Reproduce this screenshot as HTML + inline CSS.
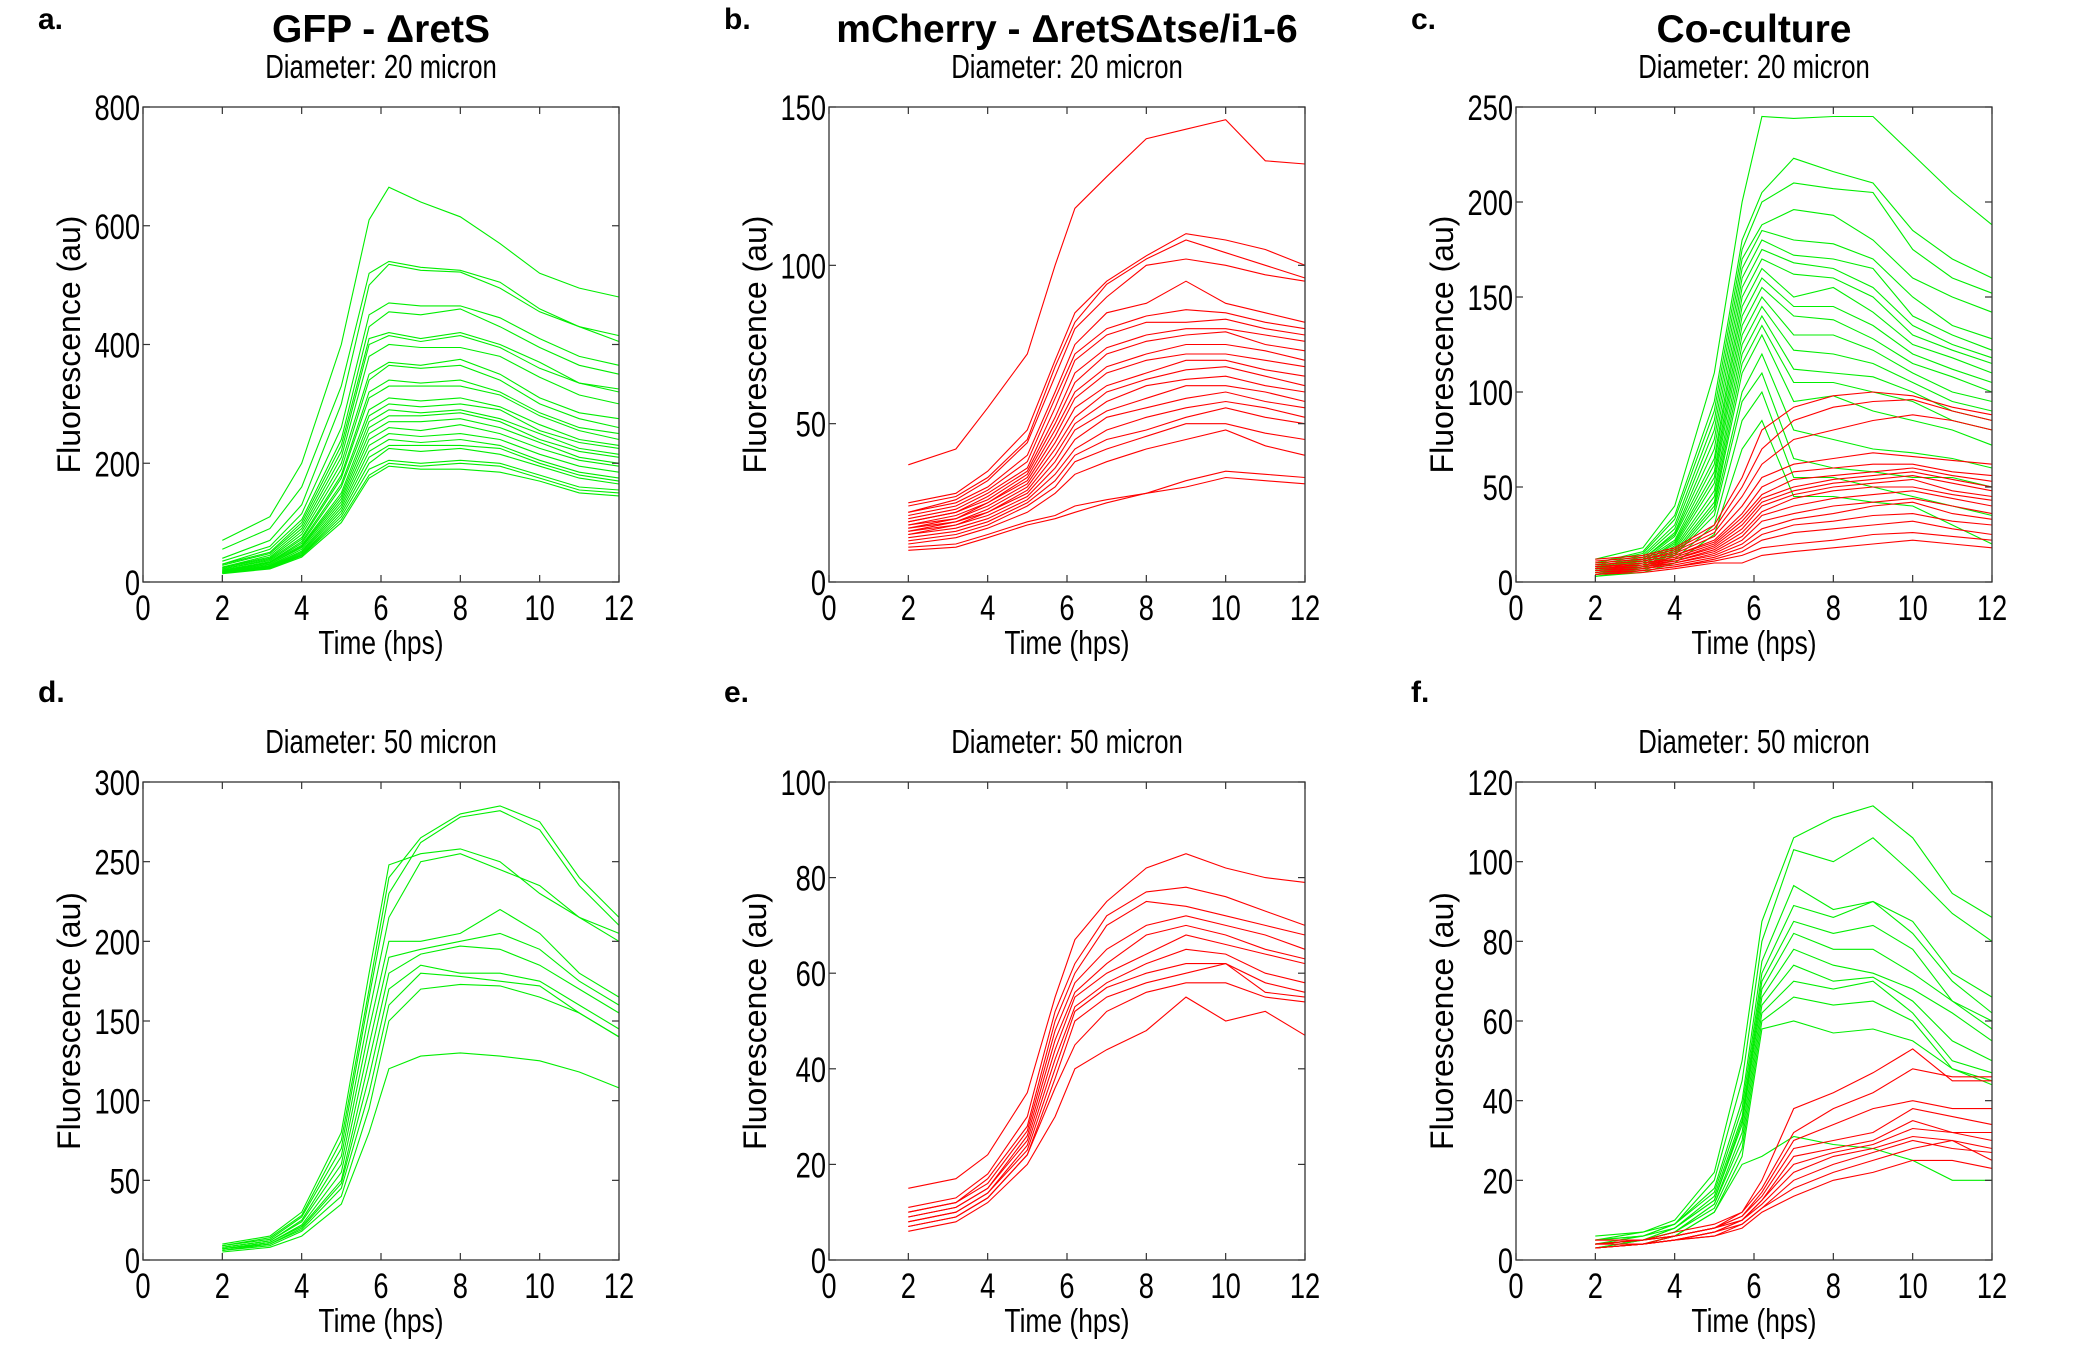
<!DOCTYPE html>
<html><head><meta charset="utf-8">
<style>
html,body{margin:0;padding:0;background:#fff;}
svg{display:block;}
text{fill:#000;}
.tick{font-family:"Liberation Sans",sans-serif;font-size:35px;}
.sub{font-family:"Liberation Sans",sans-serif;font-size:33px;}
.ttl{font-family:"Liberation Sans","DejaVu Sans",sans-serif;font-size:39px;font-weight:bold;}
.ylab{font-family:"Liberation Sans",sans-serif;font-size:32px;}
.plab{font-family:"Liberation Sans",sans-serif;font-size:30px;font-weight:bold;}
</style></head>
<body>
<svg id="fig" width="2100" height="1350" viewBox="0 0 2100 1350" xmlns="http://www.w3.org/2000/svg"></svg>
<script>
const times = [2,3.2,4,5,5.7,6.2,7,8,9,10,11,12];
const xTicks = [0,2,4,6,8,10,12];
const yTicksA = [0,200,400,600,800];
const yTicksB = [0,50,100,150];
const yTicksC = [0,50,100,150,200,250];
const yTicksD = [0,50,100,150,200,250,300];
const yTicksE = [0,20,40,60,80,100];
const yTicksF = [0,20,40,60,80,100,120];

const aGreen = [
[70,110,200,400,610,665,640,615,570,520,495,480],
[55,90,160,330,520,540,530,525,505,460,430,415],
[40,70,130,300,500,535,525,522,495,455,430,405],
[35,60,115,260,450,470,465,465,445,410,380,365],
[30,55,105,240,430,455,450,460,430,395,365,350],
[30,50,100,230,410,420,410,420,400,370,335,325],
[28,48,95,220,400,415,405,415,395,360,335,320],
[25,45,90,210,380,400,395,395,380,345,315,300],
[25,42,85,200,350,370,365,375,350,310,285,275],
[24,40,80,190,340,365,360,365,340,300,275,260],
[22,38,75,180,320,340,335,340,320,285,260,250],
[22,36,72,175,310,330,330,330,315,280,255,240],
[20,34,68,165,290,310,305,310,295,265,240,230],
[20,33,65,160,280,300,295,300,290,255,235,225],
[19,32,62,150,270,290,285,290,275,250,225,215],
[18,30,60,145,260,280,280,285,270,240,220,210],
[18,30,58,140,250,270,270,275,260,235,210,200],
[17,28,55,135,240,260,255,265,250,225,205,195],
[17,27,52,130,230,250,245,250,240,215,195,185],
[16,26,50,125,220,240,235,240,230,205,185,175],
[16,25,48,120,210,230,230,230,225,200,180,170],
[15,25,46,115,200,225,220,225,215,195,175,165],
[15,24,45,110,190,205,200,205,200,180,160,155],
[15,23,44,105,180,200,195,200,195,175,155,150],
[14,22,42,100,175,195,190,190,185,170,150,145]];

const bRed = [
[37,42,55,72,100,118,128,140,143,146,133,132],
[25,28,35,48,70,85,95,103,110,108,105,100],
[24,27,33,45,68,82,94,102,108,104,100,96],
[22,26,32,44,65,80,90,100,102,100,97,95],
[22,25,30,40,60,75,85,88,95,88,85,82],
[21,24,29,38,58,72,80,84,86,85,82,80],
[20,23,28,36,55,70,78,82,82,83,80,78],
[19,22,27,35,52,66,74,78,80,80,78,76],
[19,22,26,34,50,63,72,76,78,79,75,73],
[18,21,25,33,48,60,68,72,75,75,73,70],
[18,20,25,32,46,58,66,70,72,72,70,68],
[17,20,24,31,44,55,62,66,70,70,67,65],
[17,19,23,30,42,52,60,64,67,68,65,62],
[16,19,22,29,40,50,57,62,64,65,62,60],
[16,18,22,28,38,48,54,58,62,62,60,57],
[15,18,21,27,36,45,52,55,58,60,57,55],
[15,17,20,26,34,42,48,52,55,57,55,52],
[14,16,19,25,32,40,45,48,52,55,52,50],
[13,15,18,24,30,38,42,46,50,50,47,45],
[12,14,17,22,28,34,38,42,45,48,43,40],
[11,12,15,19,21,24,26,28,32,35,34,33],
[10,11,14,18,20,22,25,28,30,33,32,31]];

const cGreen = [
[12,18,40,110,200,245,244,245,245,225,205,188],
[10,16,35,95,180,205,223,216,210,185,170,160],
[10,15,33,90,175,200,210,207,205,175,160,152],
[9,14,30,85,170,188,196,193,180,160,150,142],
[8,13,28,80,165,185,180,178,170,150,135,128],
[8,12,26,75,160,180,172,170,165,140,130,122],
[7,12,25,70,155,175,168,165,155,135,125,118],
[7,11,24,65,150,170,162,160,150,130,122,115],
[7,11,22,62,145,165,150,155,142,125,118,110],
[6,10,21,58,140,160,145,145,135,120,112,105],
[6,10,20,55,135,155,140,138,128,115,108,100],
[6,9,19,52,130,150,130,130,122,110,100,95],
[5,9,18,48,125,145,122,120,115,105,95,90],
[5,8,17,45,120,140,112,110,108,100,90,85],
[5,8,16,42,115,135,105,105,100,95,85,80],
[4,8,15,40,110,130,95,98,90,85,80,72],
[4,7,14,38,100,120,80,75,70,68,65,60],
[4,7,14,35,95,110,65,60,58,55,55,50],
[3,6,12,30,85,100,55,55,50,45,40,35],
[3,5,10,25,70,85,45,45,42,40,30,20]];
const cRed = [
[12,14,18,30,55,80,92,98,100,98,92,88],
[11,13,17,28,50,70,85,92,95,96,90,85],
[10,12,16,26,45,62,75,80,85,88,85,80],
[10,12,15,24,40,55,62,65,68,66,64,62],
[9,11,14,22,36,50,58,60,62,62,58,56],
[9,11,14,21,34,46,54,56,58,60,56,53],
[8,10,13,20,32,44,50,54,56,58,54,50],
[8,10,12,19,30,42,48,52,54,56,52,48],
[8,9,12,18,28,40,46,50,52,54,48,45],
[7,9,11,17,26,37,44,48,50,50,46,43],
[7,8,11,16,24,35,40,44,46,48,44,40],
[6,8,10,15,22,32,36,40,42,44,40,36],
[6,7,10,14,20,28,33,36,40,42,36,33],
[5,7,9,13,18,25,30,32,35,36,32,30],
[5,6,8,12,16,22,26,28,30,32,28,25],
[4,6,8,11,14,18,20,22,25,26,24,22],
[4,5,7,10,10,14,16,18,20,22,20,18]];

const dGreen = [
[10,15,30,80,180,248,255,258,250,230,215,205],
[9,14,28,75,170,240,265,280,285,275,240,215],
[9,13,27,70,165,230,262,278,282,270,235,210],
[8,12,25,65,155,215,250,255,245,235,215,200],
[8,12,24,60,145,200,200,205,220,205,180,165],
[7,11,22,55,135,190,195,200,205,195,175,160],
[7,11,21,50,125,180,192,197,195,185,170,155],
[7,10,20,48,115,170,185,180,180,175,160,145],
[6,10,19,45,105,160,180,178,175,172,155,140],
[6,9,18,40,95,150,170,173,172,165,155,140],
[5,8,15,35,80,120,128,130,128,125,118,108]];

const eRed = [
[15,17,22,35,55,67,75,82,85,82,80,79],
[11,13,18,30,52,62,72,77,78,76,73,70],
[10,12,17,28,50,60,70,75,74,72,70,68],
[10,12,16,27,48,58,65,70,72,70,68,65],
[9,11,15,26,46,56,62,68,70,68,65,63],
[9,11,15,25,44,55,60,64,68,66,64,62],
[8,10,14,24,42,53,58,62,65,64,60,58],
[8,10,14,23,40,52,57,60,62,62,58,56],
[7,9,13,22,38,50,55,58,60,62,56,55],
[7,9,13,22,36,45,52,56,58,58,55,54],
[6,8,12,20,30,40,44,48,55,50,52,47]];

const fGreen = [
[6,7,10,22,50,85,106,111,114,106,92,86],
[5,7,9,20,45,80,103,100,106,97,87,80],
[5,6,9,18,40,75,94,88,90,85,72,66],
[5,6,9,17,38,72,89,86,90,82,70,62],
[4,6,8,16,36,70,85,82,84,78,65,60],
[4,5,8,15,35,68,82,78,78,72,65,58],
[4,5,8,15,34,66,78,74,72,68,62,55],
[4,5,7,14,32,64,74,70,71,65,55,50],
[3,5,7,14,30,62,70,68,70,62,50,47],
[3,5,7,13,28,60,66,64,65,60,48,45],
[3,4,6,12,26,58,60,57,58,55,48,44],
[3,4,6,12,24,26,31,29,28,25,20,20]];
const fRed = [
[5,5,7,9,12,20,38,42,47,53,45,45],
[5,5,6,8,12,18,32,38,42,48,46,46],
[4,5,6,8,11,17,30,34,38,40,38,38],
[4,5,6,8,11,16,28,30,32,38,36,34],
[4,4,6,8,10,15,26,28,30,35,32,32],
[4,4,5,7,10,15,24,27,29,33,32,30],
[3,4,5,7,10,14,22,26,28,31,30,28],
[3,4,5,7,9,13,20,24,27,30,28,27],
[3,4,5,6,9,13,18,22,25,28,30,25],
[3,4,5,6,8,12,16,20,22,25,25,23]];

const NS = "http://www.w3.org/2000/svg";
const svg = document.getElementById('fig');
function mk(tag, attrs, parent, txt){
  const e = document.createElementNS(NS, tag);
  for (const k in attrs) e.setAttribute(k, attrs[k]);
  if (txt !== undefined) e.textContent = txt;
  (parent||svg).appendChild(e);
  return e;
}
function ctext(parent, x, y, str, cls, anchor, sc){
  return mk('text', {x: 0, y: 0, class: cls, 'text-anchor': anchor,
    transform: 'translate(' + x + ' ' + y + ') scale(' + sc + ' 1)'}, parent, str);
}

const GREEN = "#00ee00", RED = "#ff0000";
const W = 476;
const panels = [
 {id:'a', x:143, y:107, h:475, yt:yTicksA, ymax:800, title:'GFP - \u0394retS', sub:'Diameter: 20 micron', series:[[aGreen,GREEN]]},
 {id:'b', x:829, y:107, h:475, yt:yTicksB, ymax:150, title:'mCherry - \u0394retS\u0394tse/i1-6', sub:'Diameter: 20 micron', series:[[bRed,RED]]},
 {id:'c', x:1516, y:107, h:475, yt:yTicksC, ymax:250, title:'Co-culture', sub:'Diameter: 20 micron', series:[[cGreen,GREEN],[cRed,RED]]},
 {id:'d', x:143, y:782, h:478, yt:yTicksD, ymax:300, title:'', sub:'Diameter: 50 micron', series:[[dGreen,GREEN]]},
 {id:'e', x:829, y:782, h:478, yt:yTicksE, ymax:100, title:'', sub:'Diameter: 50 micron', series:[[eRed,RED]]},
 {id:'f', x:1516, y:782, h:478, yt:yTicksF, ymax:120, title:'', sub:'Diameter: 50 micron', series:[[fGreen,GREEN],[fRed,RED]]}
];

panels.forEach(p => {
  const g = mk('g', {});
  
  
  const sx = v => p.x + v / 12 * W;
  const sy = v => p.y + p.h - v / p.ymax * p.h;
  const cx = p.x + W / 2;
  const top = p.y;

  const pl = mk('text', {x: p.x - 105, y: top - (p.title ? 78 : 80), class: 'plab'}, g, p.id + '.');
  
  
  if (p.title) {
    const t = mk('text', {x: cx, y: top - 65, class: 'ttl', 'text-anchor': 'middle'}, g, p.title);
    
    
  }
  const s = ctext(g, cx, top - 29, p.sub, 'sub', 'middle', 0.78);
  
  

  p.series.forEach(([arr, col], si) => {
    arr.forEach((vals, li) => {
      const d = vals.map((v, i) => (i ? 'L' : 'M') + sx(times[i]).toFixed(1) + ' ' + sy(v).toFixed(1)).join(' ');
      const path = mk('path', {d: d, fill: 'none', stroke: col, 'stroke-width': 1.1}, g);
      
      
    });
  });

  const box = mk('rect', {x: p.x, y: p.y, width: W, height: p.h, fill: 'none', stroke: '#333', 'stroke-width': 1.3}, g);
  
  

  xTicks.forEach(t => {
    const x = sx(t);
    mk('line', {x1: x, y1: p.y + p.h, x2: x, y2: p.y + p.h - 7, stroke: '#333', 'stroke-width': 1.2}, g);
    mk('line', {x1: x, y1: p.y, x2: x, y2: p.y + 7, stroke: '#333', 'stroke-width': 1.2}, g);
    const tl = ctext(g, x, p.y + p.h + 38, String(t), 'tick', 'middle', 0.78);
    
    
  });
  p.yt.forEach(t => {
    const y = sy(t);
    mk('line', {x1: p.x, y1: y, x2: p.x + 7, y2: y, stroke: '#333', 'stroke-width': 1.2}, g);
    mk('line', {x1: p.x + W, y1: y, x2: p.x + W - 7, y2: y, stroke: '#333', 'stroke-width': 1.2}, g);
    const tl = ctext(g, p.x - 3, y + 13, String(t), 'tick', 'end', 0.78);
    
    
  });
  const xl = ctext(g, cx, p.y + p.h + 72, 'Time (hps)', 'sub', 'middle', 0.8);
  
  
  const yx = p.x - 74, yy = p.y + p.h / 2;
  const yl = mk('text', {x: yx, y: yy, class: 'ylab', 'text-anchor': 'middle', transform: 'rotate(-90 ' + yx + ' ' + yy + ')', dy: '11'}, g, 'Fluorescence (au)');
  
  
});
</script>
</body></html>
